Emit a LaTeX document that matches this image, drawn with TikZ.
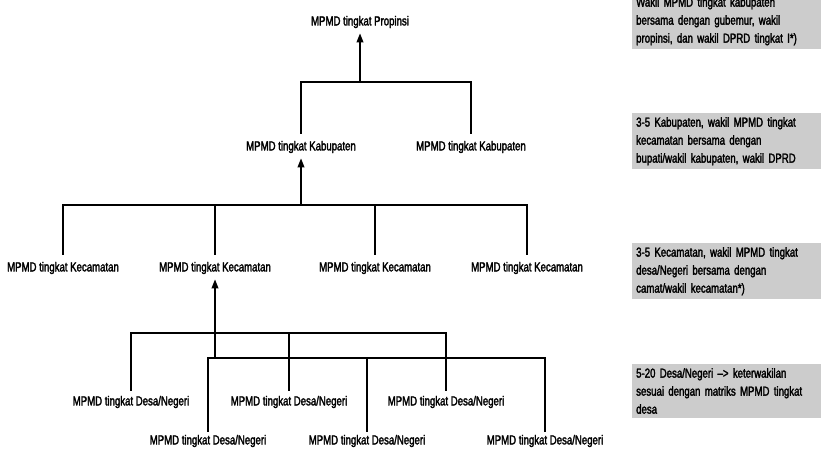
\documentclass[tikz,border=0pt]{standalone}
\usepackage{fontspec}
\setmainfont[FakeStretch=0.74,FakeBold=2.2]{Liberation Sans}
\usetikzlibrary{arrows.meta}

\begin{document}
\begin{tikzpicture}[x=1pt,y=-1pt,
  lvl/.style={font=\fontsize{13}{15}\selectfont, inner sep=0pt, anchor=center},
  bus/.style={line width=2pt, line cap=rect},
  stem/.style={line width=1.5pt},
  up/.style={line width=1.8pt, -{Triangle[length=9pt,width=6.5pt]}},
  note/.style={fill=black!20, anchor=north west, text width=181pt, align=left,
    inner xsep=4pt, inner ysep=4pt, font=\fontsize{13}{18}\selectfont}]
\useasboundingbox (0,0) rectangle (821,455);

% ---- province ----
\node[lvl] (prop) at (360,22) {MPMD tingkat Propinsi};
\coordinate (pbus) at (360,82);

% ---- regencies ----
\node[lvl] (kab1) at (301,147) {MPMD tingkat Kabupaten};
\node[lvl] (kab2) at (471,147) {MPMD tingkat Kabupaten};
\draw[bus] (kab1.north |- pbus) -- (kab2.north |- pbus);
\draw[stem] (kab1.north |- pbus) -- ([yshift=7pt]kab1.north);
\draw[stem] (kab2.north |- pbus) -- ([yshift=7pt]kab2.north);
\draw[up] (pbus) -- ([yshift=-5pt]prop.south);

% ---- districts ----
\coordinate (kbus) at (0,205);
\node[lvl] (kc1) at (63,268) {MPMD tingkat Kecamatan};
\node[lvl] (kc2) at (215,268) {MPMD tingkat Kecamatan};
\node[lvl] (kc3) at (375,268) {MPMD tingkat Kecamatan};
\node[lvl] (kc4) at (527,268) {MPMD tingkat Kecamatan};
\draw[bus] (kc1.north |- kbus) -- (kc4.north |- kbus);
\foreach \n in {kc1,kc2,kc3,kc4}
  \draw[stem] (\n.north |- kbus) -- ([yshift=7pt]\n.north);
\draw[up] (kab1.south |- kbus) -- ([yshift=-5pt]kab1.south);

% ---- villages ----
\coordinate (ubus) at (0,333);
\coordinate (lbus) at (0,358);
\node[lvl] (du1) at (131,402) {MPMD tingkat Desa/Negeri};
\node[lvl] (du2) at (289,402) {MPMD tingkat Desa/Negeri};
\node[lvl] (du3) at (446,402) {MPMD tingkat Desa/Negeri};
\node[lvl] (dl1) at (208,441) {MPMD tingkat Desa/Negeri};
\node[lvl] (dl2) at (367,441) {MPMD tingkat Desa/Negeri};
\node[lvl] (dl3) at (545,441) {MPMD tingkat Desa/Negeri};
\draw[bus] (du1.north |- ubus) -- (du3.north |- ubus);
\draw[bus] (dl1.north |- lbus) -- (dl3.north |- lbus);
\foreach \n in {du1,du2,du3}
  \draw[stem] (\n.north |- ubus) -- ([yshift=5pt]\n.north);
\foreach \n in {dl1,dl2,dl3}
  \draw[stem] (\n.north |- lbus) -- ([yshift=3pt]\n.north);
\draw[up] (kc2.south |- lbus) -- ([yshift=-5pt]kc2.south);

% ---- representation notes ----
\begin{scope}
\clip (0,0) rectangle (821,455);
\node[note] (n1) at (632,-7) {Wakil MPMD tingkat kabupaten\\bersama dengan gubemur, wakil\\propinsi, dan wakil DPRD tingkat I*)};
\end{scope}
\node[note] (n2) at (632,113) {3-5 Kabupaten, wakil MPMD tingkat\\kecamatan bersama dengan\\bupati/wakil kabupaten, wakil DPRD};
\node[note] (n3) at (632,243) {3-5 Kecamatan, wakil MPMD tingkat\\desa/Negeri bersama dengan\\camat/wakil kecamatan*)};
\node[note] (n4) at (632,364) {5-20 Desa/Negeri --> keterwakilan\\sesuai dengan matriks MPMD tingkat\\desa};
\end{tikzpicture}
\end{document}
